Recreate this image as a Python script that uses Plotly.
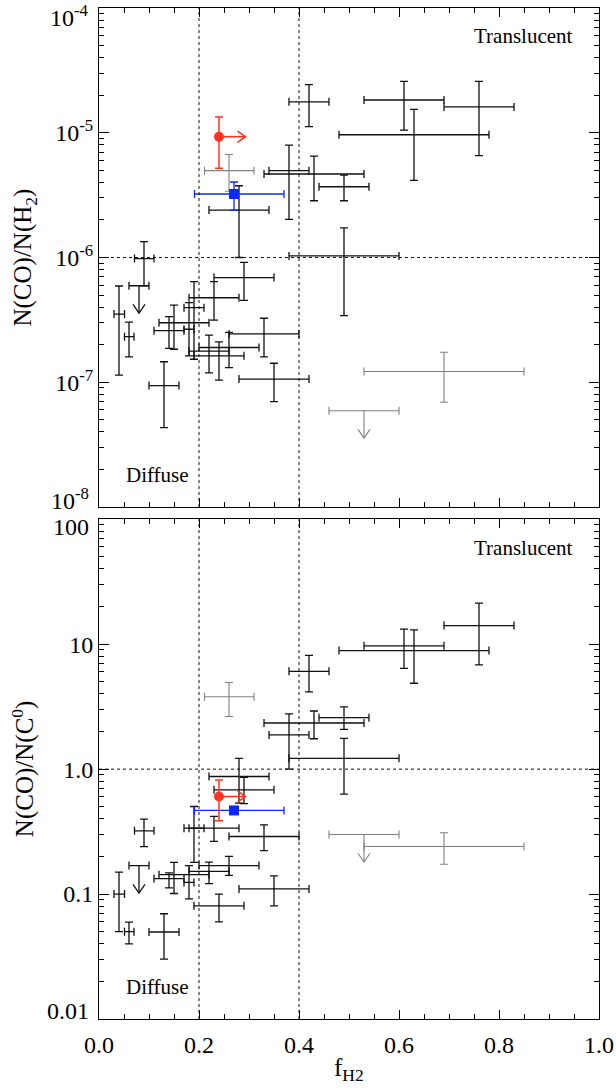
import numpy as np
import plotly.graph_objects as go

# ---------------- data ----------------
# main sample (black crosses)
fh2    = [0.04, 0.06, 0.09, 0.13, 0.14, 0.15, 0.18, 0.19, 0.23, 0.22, 0.24, 0.26, 0.28, 0.29,
          0.33, 0.35, 0.38, 0.42, 0.43, 0.49, 0.49, 0.61, 0.63, 0.76]
fh2_lo = [0.03, 0.051, 0.071, 0.10, 0.11, 0.12, 0.17, 0.17, 0.18, 0.18, 0.19, 0.20, 0.22, 0.23,
          0.26, 0.28, 0.34, 0.38, 0.33, 0.44, 0.38, 0.53, 0.48, 0.69]
fh2_hi = [0.051, 0.07, 0.11, 0.16, 0.17, 0.22, 0.19, 0.21, 0.28, 0.26, 0.29, 0.32, 0.34, 0.35,
          0.40, 0.42, 0.42, 0.46, 0.53, 0.54, 0.60, 0.69, 0.78, 0.83]

co_h2    = [3.52e-7, 2.32e-7, 9.8e-7, 9.4e-8, 2.59e-7, 3.0e-7, 2.66e-7, 3.96e-7, 4.76e-7, 1.78e-7,
            1.63e-7, 1.9e-7, 2.4e-6, 6.9e-7, 2.44e-7, 1.06e-7, 4.97e-6, 1.77e-5, 4.67e-6, 3.69e-6,
            1.03e-6, 1.83e-5, 9.64e-6, 1.61e-5]
co_h2_lo = [1.14e-7, 1.6e-7, 5.94e-7, 4.33e-8, 1.87e-7, 1.84e-7, 1.63e-7, 1.53e-7, 3.15e-7, 1.19e-7,
            1.04e-7, 1.31e-7, 1.0e-6, 4.54e-7, 1.6e-7, 7.0e-8, 2.02e-6, 1.12e-5, 2.85e-6, 2.85e-6,
            3.42e-7, 1.05e-5, 4.16e-6, 6.55e-6]
co_h2_hi = [5.91e-7, 3.03e-7, 1.34e-6, 1.46e-7, 3.36e-7, 4.16e-7, 4.35e-7, 6.4e-7, 6.4e-7, 2.39e-7,
            2.11e-7, 2.51e-7, 3.76e-6, 9.15e-7, 3.26e-7, 1.42e-7, 7.96e-6, 2.43e-5, 6.5e-6, 4.58e-6,
            1.73e-6, 2.58e-5, 1.54e-5, 2.58e-5]

co_c    = [0.10, 0.050, 0.321, 0.0497, 0.133, 0.143, 0.124, 0.337, 0.337, 0.152, 0.0805, 0.169,
           0.873, 0.683, 0.289, 0.11, 1.88, 6.07, 2.34, 2.58, 1.22, 9.7, 8.89, 14.1]
co_c_lo = [0.050, 0.040, 0.24, 0.0302, 0.112, 0.101, 0.0915, 0.179, 0.264, 0.121, 0.06, 0.141,
           0.535, 0.53, 0.223, 0.0805, 1.0, 4.15, 1.75, 2.08, 0.631, 6.41, 4.87, 6.83]
co_c_hi = [0.15, 0.0597, 0.398, 0.0696, 0.148, 0.179, 0.169, 0.502, 0.418, 0.18, 0.10, 0.20,
           1.22, 0.86, 0.358, 0.14, 2.77, 8.13, 2.92, 3.15, 1.76, 13.2, 13.0, 21.3]

# black upper limit
ul_fh2, ul_fh2_lo, ul_fh2_hi = [0.08], [0.06], [0.10]
ul_co_h2 = [5.94e-7]
ul_co_c = [0.169]

# grey points
g_fh2    = [0.26, 0.69]
g_fh2_lo = [0.211, 0.53]
g_fh2_hi = [0.31, 0.85]
g_co_h2    = [4.97e-6, 1.22e-7]
g_co_h2_lo = [3.4e-6, 6.92e-8]
g_co_h2_hi = [6.7e-6, 1.74e-7]
g_co_c    = [3.8, 0.24]
g_co_c_lo = [2.64, 0.173]
g_co_c_hi = [4.94, 0.31]
# grey upper limit
gul_fh2, gul_fh2_lo, gul_fh2_hi = [0.53], [0.46], [0.60]
gul_co_h2 = [5.92e-8]
gul_co_c = [0.30]

# red (lower limit in f_H2)
r_fh2 = [0.24]
r_co_h2, r_co_h2_lo, r_co_h2_hi = [9.3e-6], [5.19e-6], [1.34e-5]
r_co_c, r_co_c_lo, r_co_c_hi = [0.604], [0.386], [0.82]

# blue
b_fh2, b_fh2_lo, b_fh2_hi = [0.27], [0.191], [0.37]
b_co_h2, b_co_h2_lo, b_co_h2_hi = [3.23e-6], [2.4e-6], [4.03e-6]
b_co_c = [0.467]

# region boundaries
fh2_bounds = [0.2, 0.4]
co_h2_thresh = 1e-6
co_c_thresh = 1.0

top_ticks = [1e-8, 1e-7, 1e-6, 1e-5, 1e-4]
top_ticktext = ["10<sup>-8</sup>", "10<sup>-7</sup>", "10<sup>-6</sup>", "10<sup>-5</sup>", "10<sup>-4</sup>"]
bot_ticks = [0.01, 0.1, 1.0, 10, 100]
bot_ticktext = ["0.01", "0.1", "1.0", "10", "100"]
x_ticks = [0.0, 0.2, 0.4, 0.6, 0.8, 1.0]
x_ticktext = ["0.0", "0.2", "0.4", "0.6", "0.8", "1.0"]

# ---------------- styles ----------------
BLACK = "#111111"
GREY = "#808080"
RED = "#ff3322"
BLUE = "#0a28ff"
FONT = "Liberation Serif"
TICK_SIZE = 24
LABEL_SIZE = 21
TITLE_SIZE = 25
ARROW_DEX = 0.22      # length of the upper-limit arrows (dex)
ARROW_DX = 0.053      # length of the lower-limit arrow in f_H2
HEAD_DX = 0.012       # half width of a down-arrow head (f_H2 units, ~6 px)
HEAD_DEX = 0.07       # length of a down-arrow head (dex, ~9 px)
HEAD_RDX = 0.016      # length of the right-arrow head (f_H2 units)
HEAD_RDEX = 0.045     # half height of the right-arrow head (dex)
END_SHIFT = 8         # end tick labels are nudged inward (px), as in the original

def minus(v, lo):
    return [a - b for a, b in zip(v, lo)]

def plus(v, hi):
    return [b - a for a, b in zip(v, hi)]

def cross(x, xlo, xhi, y, ylo, yhi, color, width, xa, ya, marker=None):
    ex = None
    if xlo is not None:
        ex = dict(type="data", symmetric=False, array=plus(x, xhi), arrayminus=minus(x, xlo),
                  color=color, thickness=width, width=4)
    ey = None
    if ylo is not None:
        ey = dict(type="data", symmetric=False, array=plus(y, yhi), arrayminus=minus(y, ylo),
                  color=color, thickness=width, width=4)
    m = marker if marker is not None else dict(size=1, color=color)
    return go.Scatter(x=x, y=y, mode="markers", marker=m, error_x=ex, error_y=ey,
                      xaxis=xa, yaxis=ya, showlegend=False, hoverinfo="skip")

def down_arrows(xs, ys, color, width, xa, ya):
    px, py = [], []
    for xv, yv in zip(xs, ys):
        tip = yv * 10 ** (-ARROW_DEX)
        back = tip * 10 ** HEAD_DEX
        px += [xv, xv, None, xv - HEAD_DX, xv, xv + HEAD_DX, None]
        py += [yv, tip, None, back, tip, back, None]
    return go.Scatter(x=px, y=py, mode="lines", line=dict(color=color, width=width),
                      xaxis=xa, yaxis=ya, showlegend=False, hoverinfo="skip")

def right_arrows(xs, ys, color, width, xa, ya):
    px, py = [], []
    for xv, yv in zip(xs, ys):
        tip = xv + ARROW_DX
        back = tip - HEAD_RDX
        px += [xv, tip, None, back, tip, back, None]
        py += [yv, yv, None, yv * 10 ** HEAD_RDEX, yv, yv * 10 ** (-HEAD_RDEX), None]
    return go.Scatter(x=px, y=py, mode="lines", line=dict(color=color, width=width),
                      xaxis=xa, yaxis=ya, showlegend=False, hoverinfo="skip")

fig = go.Figure()
annotations = []
shapes = []

panels = [
    ("x", "y", co_h2, co_h2_lo, co_h2_hi, ul_co_h2, g_co_h2, g_co_h2_lo, g_co_h2_hi, gul_co_h2,
     r_co_h2, r_co_h2_lo, r_co_h2_hi, b_co_h2, b_co_h2_lo, b_co_h2_hi, co_h2_thresh),
    ("x2", "y2", co_c, co_c_lo, co_c_hi, ul_co_c, g_co_c, g_co_c_lo, g_co_c_hi, gul_co_c,
     r_co_c, r_co_c_lo, r_co_c_hi, b_co_c, None, None, co_c_thresh),
]

for (xa, ya, y, ylo, yhi, uly, gy, gylo, gyhi, guly, ry, rylo, ryhi, by, bylo, byhi, thr) in panels:
    # threshold line
    fig.add_trace(go.Scatter(x=[0, 1], y=[thr, thr], mode="lines",
                             line=dict(color=BLACK, width=1, dash="dot"),
                             xaxis=xa, yaxis=ya, showlegend=False, hoverinfo="skip"))
    # grey
    fig.add_trace(cross(g_fh2, g_fh2_lo, g_fh2_hi, gy, gylo, gyhi, GREY, 1.1, xa, ya))
    fig.add_trace(cross(gul_fh2, gul_fh2_lo, gul_fh2_hi, guly, None, None, GREY, 1.1, xa, ya))
    fig.add_trace(down_arrows(gul_fh2, guly, GREY, 1.1, xa, ya))
    # black
    fig.add_trace(cross(fh2, fh2_lo, fh2_hi, y, ylo, yhi, BLACK, 1.3, xa, ya))
    fig.add_trace(cross(ul_fh2, ul_fh2_lo, ul_fh2_hi, uly, None, None, BLACK, 1.3, xa, ya))
    fig.add_trace(down_arrows(ul_fh2, uly, BLACK, 1.3, xa, ya))
    # blue
    fig.add_trace(cross(b_fh2, b_fh2_lo, b_fh2_hi, by, bylo, byhi, BLUE, 1.3, xa, ya,
                        marker=dict(symbol="square", size=10, color=BLUE)))
    # red
    fig.add_trace(right_arrows(r_fh2, ry, RED, 1.6, xa, ya))
    fig.add_trace(cross(r_fh2, None, None, ry, rylo, ryhi, RED, 1.5, xa, ya,
                        marker=dict(symbol="circle", size=10, color=RED)))
    # region boundaries
    for b in fh2_bounds:
        shapes.append(dict(type="line", xref=xa, yref=ya + " domain", x0=b, x1=b, y0=0, y1=1,
                           line=dict(color=BLACK, width=1, dash="dot")))
    # region labels
    annotations.append(dict(text="Translucent", xref=xa + " domain", yref=ya + " domain",
                            x=0.952, y=0.943, xanchor="right", yanchor="middle", showarrow=False,
                            font=dict(family=FONT, size=LABEL_SIZE, color="black")))
    annotations.append(dict(text="Diffuse", xref=xa + " domain", yref=ya + " domain",
                            x=0.05, y=0.064, xanchor="left", yanchor="middle", showarrow=False,
                            font=dict(family=FONT, size=LABEL_SIZE, color="black")))

# end tick labels of each panel, nudged inward (the end ticks coincide with the frame)
for ya, texts in [("y", top_ticktext), ("y2", bot_ticktext)]:
    for pos, txt, shift in [(0, texts[0], END_SHIFT), (1, texts[-1], -END_SHIFT)]:
        annotations.append(dict(text=txt, xref="paper", yref=ya + " domain", x=-0.016, y=pos,
                                xanchor="right", yanchor="middle", yshift=shift, showarrow=False,
                                font=dict(family=FONT, size=TICK_SIZE, color="black")))

# axis titles
annotations.append(dict(text="N(CO)/N(H<sub>2</sub>)", xref="paper", yref="y domain",
                        x=-0.148, y=0.5, xanchor="center", yanchor="middle", textangle=-90,
                        showarrow=False, font=dict(family=FONT, size=TITLE_SIZE, color="black")))
annotations.append(dict(text="N(CO)/N(C<sup>0</sup>)", xref="paper", yref="y2 domain",
                        x=-0.152, y=0.5, xanchor="center", yanchor="middle", textangle=-90,
                        showarrow=False, font=dict(family=FONT, size=TITLE_SIZE, color="black")))
annotations.append(dict(text="f<sub>H2</sub>", xref="x2 domain", yref="paper",
                        x=0.5, y=-0.05, xanchor="center", yanchor="middle", showarrow=False,
                        font=dict(family=FONT, size=TITLE_SIZE, color="black")))

def minor_log(lo, hi):
    return [m * 10.0 ** e for e in range(lo, hi) for m in range(2, 10)]

xaxis_common = dict(range=[0, 1], showline=True, linecolor="black", linewidth=1, mirror="allticks",
                    ticks="inside", ticklen=9, tickwidth=1, tickcolor="black", automargin=False,
                    tickmode="array", tickvals=x_ticks, ticktext=x_ticktext,
                    minor=dict(ticks="inside", ticklen=5, tickwidth=1, tickcolor="black",
                               tickmode="array", tickvals=[i * 0.05 for i in range(21)]),
                    showgrid=False, zeroline=False,
                    tickfont=dict(family=FONT, size=TICK_SIZE, color="black"))
yaxis_common = dict(type="log", showline=True, linecolor="black", linewidth=1, mirror="allticks",
                    ticks="inside", ticklen=10, tickwidth=1, tickcolor="black", automargin=False,
                    tickmode="array", showgrid=False, zeroline=False,
                    tickfont=dict(family=FONT, size=TICK_SIZE, color="black"))

fig.update_layout(
    template="none",
    width=616, height=1088,
    margin=dict(l=99, r=17, t=8, b=69, autoexpand=False),
    paper_bgcolor="white", plot_bgcolor="white",
    font=dict(family=FONT, size=TICK_SIZE, color="black"),
    xaxis=dict(xaxis_common, domain=[0, 1], anchor="y", showticklabels=False, matches="x2"),
    yaxis=dict(yaxis_common, domain=[0.5064, 1.0], anchor="x", range=[-8, -4],
               tickvals=top_ticks[1:-1], ticktext=top_ticktext[1:-1],
               minor=dict(ticks="inside", ticklen=5, tickwidth=1, tickcolor="black",
                          tickmode="array", tickvals=minor_log(-8, -4))),
    xaxis2=dict(xaxis_common, domain=[0, 1], anchor="y2", ticklabelstandoff=4),
    yaxis2=dict(yaxis_common, domain=[0, 0.4943], anchor="x2", range=[-2, 2],
                tickvals=bot_ticks[1:-1], ticktext=bot_ticktext[1:-1],
                minor=dict(ticks="inside", ticklen=5, tickwidth=1, tickcolor="black",
                           tickmode="array", tickvals=minor_log(-2, 2))),
    annotations=annotations,
    shapes=shapes,
)

fig.write_html("out.html", config={"displayModeBar": False},
               post_script="document.body.style.margin='0';document.body.style.overflow='hidden';")
